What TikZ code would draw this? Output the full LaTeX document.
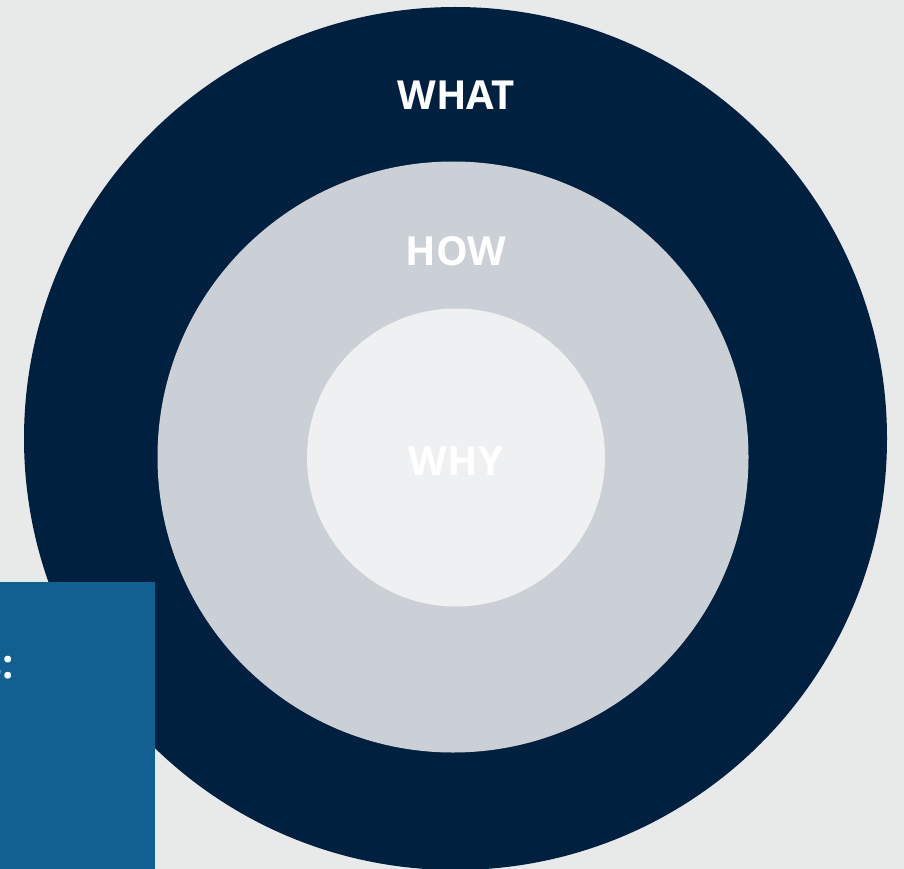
\documentclass[tikz,border=0pt]{standalone}
\usepackage{fontspec}
\setmainfont{Open Sans}
\definecolor{bgc}{RGB}{232,234,234}
\definecolor{navy}{RGB}{0,32,63}
\definecolor{midc}{RGB}{203,208,215}
\definecolor{innc}{RGB}{239,240,242}
\definecolor{boxc}{RGB}{18,96,146}
\tikzset{
  lbl/.style={text=white,font=\bfseries\fontsize{40}{48}\selectfont,inner sep=0pt},
}
\begin{document}
\begin{tikzpicture}[x=1pt,y=-1pt]
\useasboundingbox (0,0) rectangle (904,869);
\clip (0,0) rectangle (904,869);
\fill[bgc] (0,0) rectangle (904,869);
\fill[navy] (455.5,438.5) circle (431.5);
\fill[midc] (453,457) circle (295.5);
\fill[innc] (456,457.5) circle (149);
\node[lbl] (what) at (456,95) {WHAT};
\node[lbl] (how) at (456,251) {HOW};
\node[lbl] (why) at (456,461) {WHY};
\fill[boxc] (0,582) rectangle (155,869);
\node[lbl,anchor=base east,font=\bfseries\fontsize{40}{48}\selectfont] (cut) at (14,678) {s:};
\end{tikzpicture}
\end{document}
